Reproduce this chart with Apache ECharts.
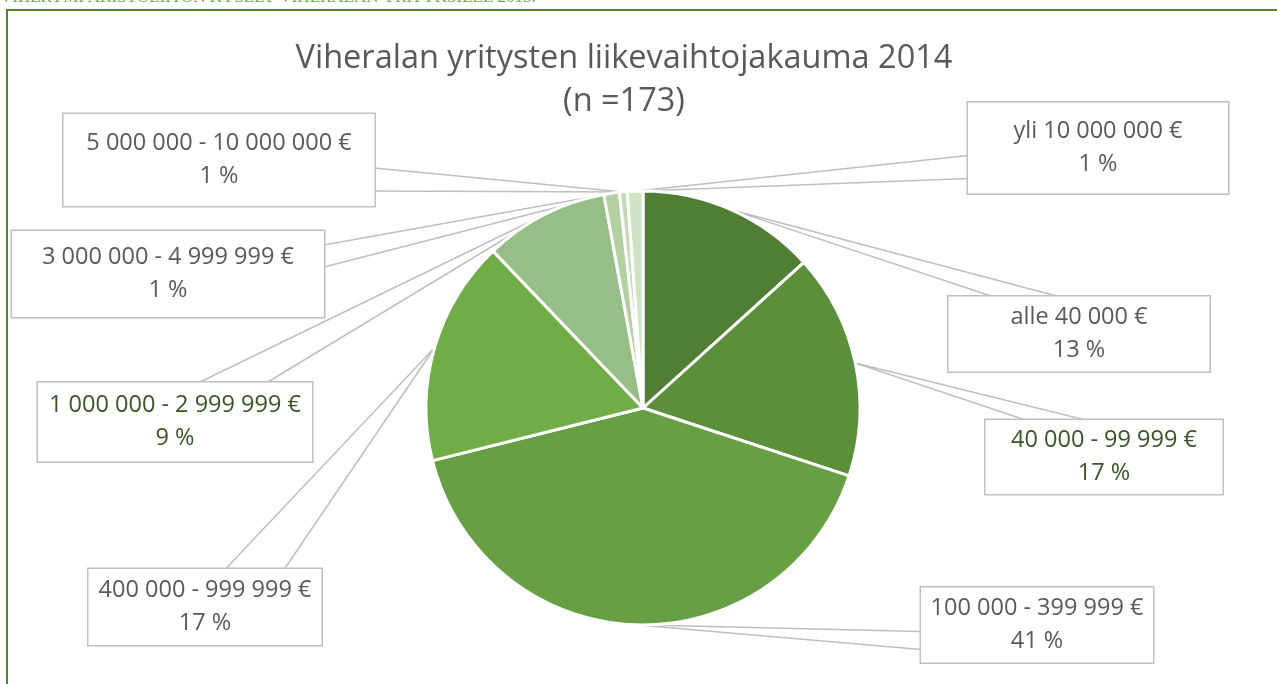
<!DOCTYPE html>
<html>
<head>
<meta charset="utf-8">
<script src="https://cdn.jsdelivr.net/npm/echarts@6/dist/echarts.min.js"></script>
<style>
html,body{margin:0;padding:0;background:#fff;}
#chart{width:1277px;height:684px;}
</style>
</head>
<body>
<div id="chart"></div>
<script>
// ---- data ----
const titleText = 'Viheralan yritysten liikevaihtojakauma 2014';
const subtitleText = '(n =173)';
const headerText = 'VIHERYMPÄRISTÖLIITON KYSELY VIHERALAN YRITYKSILLE 2015.';
const categories = ['alle 40 000 €', '40 000 - 99 999 €', '100 000 - 399 999 €', '400 000 - 999 999 €',
  '1 000 000 - 2 999 999 €', '3 000 000 - 4 999 999 €', '5 000 000 - 10 000 000 €', 'yli 10 000 000 €'];
const counts = [23, 29, 71, 29, 16, 2, 1, 2];

// ---- styles ----
const sliceColors = ['#507E32', '#5B8F3A', '#67A044', '#70AD47', '#97BE86', '#B3D0A3', '#C3DAB5', '#D0E2C5'];
const labelColors = ['#595959', '#375623', '#595959', '#595959', '#375623', '#595959', '#595959', '#595959'];
// callout boxes: [centerX, centerY, width, height]
const boxes = [
  [1079, 334, 261, 75], [1104, 457, 237, 74], [1037, 625, 232, 75], [205, 607, 233, 76],
  [175, 422, 274, 79], [168, 274, 312, 86], [219, 160, 311, 92], [1098, 148, 260, 91]
];
// callout pointer base: [side, offset1, offset2]
const wedges = [
  ['top', 44, 110], ['top', 40, 100], ['left', 44, 62], ['top', 137, 196],
  ['top', 161, 229], ['right', 14, 36], ['right', 54, 77], ['left', 53, 76]
];
const LINE_H = 33;

const chart = echarts.init(document.getElementById('chart'));

const data = categories.map((name, i) => {
  const b = boxes[i];
  const pv = (b[3] - 2 * LINE_H) / 2;
  return {
    name: name,
    value: counts[i],
    itemStyle: { color: sliceColors[i] },
    label: { color: labelColors[i], width: b[2], padding: [pv + 2, 0, pv - 2, 0] }
  };
});

chart.setOption({
  animation: false,
  backgroundColor: '#ffffff',
  title: {
    text: titleText + '\n' + subtitleText,
    left: 619,
    top: 32,
    textAlign: 'center',
    textStyle: { fontFamily: 'Open Sans', fontSize: 32.5, fontWeight: 'normal', color: '#595959', lineHeight: 43 }
  },
  graphic: [
    { type: 'rect', silent: true, shape: { x: 7, y: 10, width: 1300, height: 720 },
      style: { fill: 'none', stroke: '#548235', lineWidth: 2 } },
    { type: 'text', silent: true, x: 0, y: 6,
      style: { text: headerText, font: '17px "Liberation Serif"', fill: '#70AD47', verticalAlign: 'bottom', align: 'left' } }
  ],
  series: [{
    type: 'pie',
    center: [643, 408],
    radius: 217,
    startAngle: 90,
    clockwise: true,
    avoidLabelOverlap: false,
    itemStyle: { borderColor: '#ffffff', borderWidth: 3 },
    label: {
      show: true,
      position: 'outside',
      fontFamily: 'Open Sans',
      fontSize: 23.5,
      lineHeight: LINE_H,
      backgroundColor: '#ffffff',
      borderColor: '#bfbfbf',
      borderWidth: 1.5,
      align: 'center',
      formatter: p => p.name + '\n' + Math.round(p.percent) + ' %'
    },
    labelLine: { show: true, lineStyle: { color: '#bfbfbf', width: 1.5 } },
    labelLayout: function (params) {
      const i = params.dataIndex;
      const b = boxes[i];
      const w = wedges[i];
      const left = b[0] - b[2] / 2, top = b[1] - b[3] / 2;
      const right = left + b[2];
      const tip = params.labelLinePoints ? params.labelLinePoints[0] : [b[0], b[1]];
      let p1, p2;
      if (w[0] === 'top') { p1 = [left + w[1], top]; p2 = [left + w[2], top]; }
      else if (w[0] === 'left') { p1 = [left, top + w[1]]; p2 = [left, top + w[2]]; }
      else { p1 = [right, top + w[1]]; p2 = [right, top + w[2]]; }
      return {
        x: b[0], y: b[1], align: 'center', verticalAlign: 'middle',
        labelLinePoints: [p1, tip, p2]
      };
    },
    data: data
  }]
});
</script>
</body>
</html>
